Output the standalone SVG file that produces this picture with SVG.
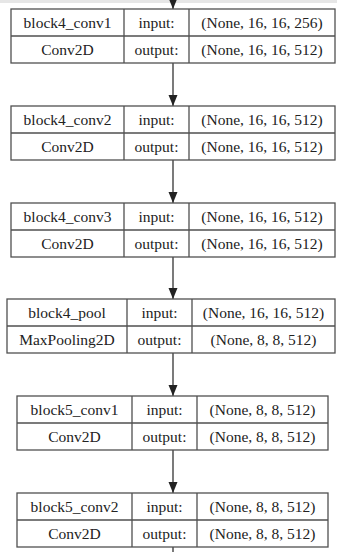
<svg xmlns="http://www.w3.org/2000/svg" width="337" height="552" viewBox="0 0 337 552">
<defs>
<style>
.b{fill:#fff;stroke:#505050;stroke-width:1.3}
.l{stroke:#505050;stroke-width:1.3;fill:none}
.e{stroke:#333;stroke-width:1.3;fill:none}
text{font-family:Liberation Serif,Tinos,Times New Roman,Times,DejaVu Serif,Noto Serif,serif;font-size:15.5px;fill:#222;text-anchor:middle}
</style>
<marker id="ah" markerWidth="12" markerHeight="10" refX="11" refY="4.5" orient="auto" markerUnits="userSpaceOnUse" viewBox="0 0 12 10">
<path d="M0,0 L11,4.5 L0,9 Z" fill="#222"/>
</marker>
</defs>
<rect x="0" y="0" width="337" height="552" fill="#fff"/>
<rect x="0" y="0" width="337" height="3" fill="#e6e6e6"/>
<g id="edges">
<line class="e" x1="173" y1="-2" x2="173" y2="9" marker-end="url(#ah)"/>
<line class="e" x1="173" y1="63" x2="173" y2="106" marker-end="url(#ah)"/>
<line class="e" x1="173" y1="160" x2="173" y2="203" marker-end="url(#ah)"/>
<line class="e" x1="173" y1="257" x2="173" y2="299" marker-end="url(#ah)"/>
<line class="e" x1="173" y1="353" x2="173" y2="396" marker-end="url(#ah)"/>
<line class="e" x1="173" y1="450" x2="173" y2="493" marker-end="url(#ah)"/>
<line class="e" x1="173" y1="547" x2="173" y2="552"/>
</g>
<g id="block4_conv1">
<rect class="b" x="11" y="9" width="324" height="54"/>
<path class="l" d="M11,36H335M124,9V63M189,9V63"/>
<text x="67.5" y="28">block4_conv1</text>
<text x="156.5" y="28">input:</text>
<text x="262" y="28">(None, 16, 16, 256)</text>
<text x="67.5" y="55">Conv2D</text>
<text x="156.5" y="55">output:</text>
<text x="262" y="55">(None, 16, 16, 512)</text>
</g>
<g id="block4_conv2">
<rect class="b" x="11" y="106" width="324" height="54"/>
<path class="l" d="M11,133H335M124,106V160M189,106V160"/>
<text x="67.5" y="125">block4_conv2</text>
<text x="156.5" y="125">input:</text>
<text x="262" y="125">(None, 16, 16, 512)</text>
<text x="67.5" y="152">Conv2D</text>
<text x="156.5" y="152">output:</text>
<text x="262" y="152">(None, 16, 16, 512)</text>
</g>
<g id="block4_conv3">
<rect class="b" x="11" y="203" width="324" height="54"/>
<path class="l" d="M11,230H335M124,203V257M189,203V257"/>
<text x="67.5" y="222">block4_conv3</text>
<text x="156.5" y="222">input:</text>
<text x="262" y="222">(None, 16, 16, 512)</text>
<text x="67.5" y="249">Conv2D</text>
<text x="156.5" y="249">output:</text>
<text x="262" y="249">(None, 16, 16, 512)</text>
</g>
<g id="block4_pool">
<rect class="b" x="7" y="299" width="328" height="54"/>
<path class="l" d="M7,326H335M127,299V353M192,299V353"/>
<text x="67" y="318">block4_pool</text>
<text x="159.5" y="318">input:</text>
<text x="263.5" y="318">(None, 16, 16, 512)</text>
<text x="67" y="345">MaxPooling2D</text>
<text x="159.5" y="345">output:</text>
<text x="263.5" y="345">(None, 8, 8, 512)</text>
</g>
<g id="block5_conv1">
<rect class="b" x="17" y="396" width="311" height="54"/>
<path class="l" d="M17,423H328M132,396V450M197,396V450"/>
<text x="74.5" y="415">block5_conv1</text>
<text x="164.5" y="415">input:</text>
<text x="262.5" y="415">(None, 8, 8, 512)</text>
<text x="74.5" y="442">Conv2D</text>
<text x="164.5" y="442">output:</text>
<text x="262.5" y="442">(None, 8, 8, 512)</text>
</g>
<g id="block5_conv2">
<rect class="b" x="17" y="493" width="311" height="54"/>
<path class="l" d="M17,520H328M132,493V547M197,493V547"/>
<text x="74.5" y="512">block5_conv2</text>
<text x="164.5" y="512">input:</text>
<text x="262.5" y="512">(None, 8, 8, 512)</text>
<text x="74.5" y="539">Conv2D</text>
<text x="164.5" y="539">output:</text>
<text x="262.5" y="539">(None, 8, 8, 512)</text>
</g>
</svg>
